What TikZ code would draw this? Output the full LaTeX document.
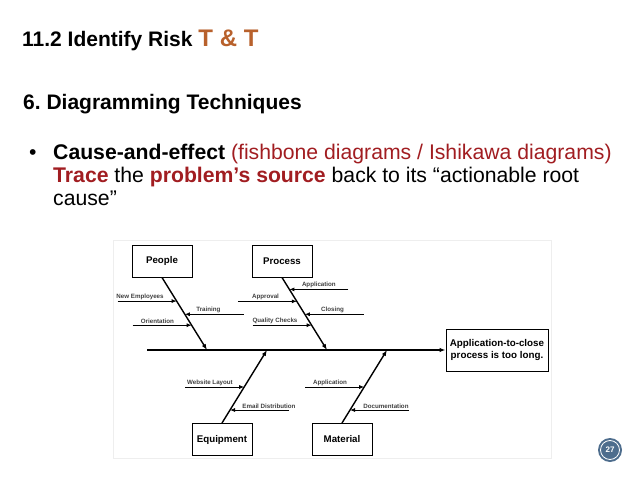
\documentclass[tikz,border=0pt]{standalone}
\usepackage{fontspec}
\setmainfont{Liberation Sans}
\usetikzlibrary{arrows.meta,calc}
\definecolor{tandt}{HTML}{B8612C}
\definecolor{deepred}{HTML}{A11D21}
\definecolor{badge}{HTML}{4E6D8D}
\definecolor{framegray}{HTML}{EEEEEE}

\begin{document}
\begin{tikzpicture}[x=1pt,y=-1pt,
  box/.style={draw,line width=1pt,minimum width=60pt,minimum height=32pt,inner sep=1pt,font=\fontsize{9.7}{11}\bfseries},
  bone/.style={line width=1.4pt,-{Latex[length=6pt,width=4.5pt]}},
  causearrow/.style={line width=0.8pt,-{Latex[length=5pt,width=4pt]}},
  lbl/.style={font=\fontsize{6.2}{7}\bfseries,text=black!75,inner sep=1.2pt},
  bodytext/.style={anchor=base west,inner sep=0,font=\fontsize{21.2}{25}\selectfont}]
\useasboundingbox (0,0) rectangle (638,479);

% slide text
\node[bodytext,font=\fontsize{21}{25}\bfseries] (title) at (22,46)
  {11.2 Identify Risk {\fontsize{24}{28}\selectfont\color{tandt} T \& T}};
\node[bodytext,font=\fontsize{21}{25}\bfseries] (heading) at (23,109) {6.\ Diagramming Techniques};
\node[bodytext] (dot) at (29,159) {•};
\node[bodytext] (line1) at (53,159)
  {\textbf{Cause-and-effect} {\color{deepred}(fishbone diagrams / Ishikawa diagrams)}};
\node[bodytext] (line2) at (53,182)
  {{\color{deepred}\bfseries Trace} the {\color{deepred}\bfseries problem’s source} back to its “actionable root};
\node[bodytext] (line3) at (53,205) {cause”};

% fishbone
\draw[framegray,line width=0.6pt] (113,240) rectangle (551,458);
\node[box] (people) at (162,261) {People};
\node[box] (process) at (282,261) {Process};
\node[box] (equip) at (222,439.5) {Equipment};
\node[box] (material) at (342,439.5) {Material};
\node[box,minimum width=102pt,minimum height=42pt,font=\fontsize{9.8}{11.5}\bfseries,align=center] (effect) at (497,350)
  {Application-to-close\\process is too long.};

\coordinate (tail) at (147,350);
\coordinate (pj) at (207,350);
\coordinate (rj) at (327,350);
\coordinate (ej) at (267,350);
\coordinate (mj) at (387,350);
\draw[line width=1.1pt,-{Latex[length=6pt,width=4.5pt]}] (tail) -- (effect.west);
\draw[bone] (people.south) -- (pj);
\draw[bone] (process.south) -- (rj);
\draw[bone] (equip.north) -- (ej);
\draw[bone] (material.north) -- (mj);

% causes: anchor/joint/position/side/label pos/text
\foreach \bx/\jn/\t/\s/\p/\txt in {people.south/pj/0.325/-1/0.38/New Employees,
    people.south/pj/0.507/1/0.6/Training,
    people.south/pj/0.658/-1/0.42/Orientation,
    process.south/rj/0.164/1/0.5/Application,
    process.south/rj/0.329/-1/0.47/Approval,
    process.south/rj/0.507/1/0.53/Closing,
    process.south/rj/0.658/-1/0.38/Quality Checks,
    equip.north/ej/0.493/-1/0.42/Website Layout,
    equip.north/ej/0.178/1/0.34/Email Distribution,
    material.north/mj/0.493/-1/0.42/Application,
    material.north/mj/0.178/1/0.39/Documentation}
  \draw[causearrow] ($(\bx)!\t!(\jn)+(\s*59,0)$) -- node[above,lbl,pos=\p] {\txt} ($(\bx)!\t!(\jn)$);

% page number
\node[circle,fill=badge,minimum size=24pt,inner sep=0,text=white,font=\fontsize{8}{9}\bfseries] (page) at (610,450) {27};
\draw[white,line width=0.8pt] (page.center) circle (9.5);
\end{tikzpicture}
\end{document}
